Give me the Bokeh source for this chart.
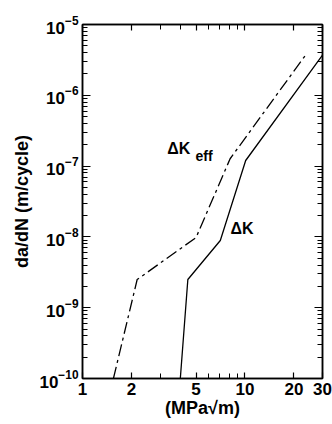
from bokeh.plotting import figure
from bokeh.models import (LogAxis, FixedTicker, LogTicker, PrintfTickFormatter,
                          LogTickFormatter, Range1d, CustomJSTickFormatter)
from bokeh.core.properties import value
from bokeh.embed import file_html
from bokeh.resources import INLINE

# Data
dk_x = [4.0, 4.45, 7.05, 10.1, 30.0]
dk_y = [1e-10, 2.5e-9, 8.9e-9, 1.2e-7, 3.7e-6]
dkeff_x = [1.55, 2.17, 5.0, 8.1, 24.0]
dkeff_y = [1e-10, 2.5e-9, 9.8e-9, 1.27e-7, 3.9e-6]

x_tick_labels = [1, 2, 5, 10, 20, 30]
x_minor_ticks = [3, 4, 6, 7, 8, 9]

label_text = ["ΔK", "ΔK", "eff"]
label_x = [8.14, 3.32, 4.96]
label_y = [1.3e-8, 1.75e-7, 1.41e-7]
label_size = ["16px", "16px", "14px"]

FONT = "Liberation Sans"

p = figure(width=332, height=424, x_axis_type="log", y_axis_type="log",
           x_range=Range1d(1, 30), y_range=Range1d(1e-10, 1e-5),
           output_backend="svg", toolbar_location=None,
           min_border_left=82, min_border_right=10,
           min_border_top=24, min_border_bottom=46)
p.grid.visible = False
p.outline_line_color = "black"
p.outline_line_width = 1.5
p.background_fill_color = "white"
p.border_fill_color = "white"


def style_axis(ax, major_in, minor_in, labels=True):
    ax.major_tick_in = major_in
    ax.major_tick_out = 0
    ax.minor_tick_in = minor_in
    ax.minor_tick_out = 0
    ax.axis_line_width = 1.5
    ax.axis_line_color = "black"
    ax.major_tick_line_width = 1.2
    ax.minor_tick_line_width = 1.0
    ax.major_tick_line_color = "black"
    ax.minor_tick_line_color = "black"
    ax.major_label_text_font = FONT
    ax.major_label_text_font_style = "bold"
    ax.major_label_text_color = "black"
    ax.axis_label_text_color = "black"
    if not labels:
        ax.formatter = CustomJSTickFormatter(code="return ''")
        ax.major_label_standoff = 0


xt = FixedTicker(ticks=x_tick_labels, minor_ticks=x_minor_ticks)
p.xaxis.ticker = xt
p.xaxis.formatter = PrintfTickFormatter(format="%d")
style_axis(p.xaxis[0], 6, 5)
p.xaxis.major_label_text_font_size = "17px"
p.xaxis.major_label_standoff = 4
p.xaxis.axis_label = "(MPa√m)"
p.xaxis.axis_label_text_font = FONT
p.xaxis.axis_label_text_font_style = "bold"
p.xaxis.axis_label_text_font_size = "18px"
p.xaxis.axis_label_standoff = 0

p.yaxis.ticker = LogTicker(num_minor_ticks=10)
p.yaxis.formatter = LogTickFormatter()
style_axis(p.yaxis[0], 8, 5)
p.yaxis.major_label_text_font_size = "17px"
p.yaxis.major_label_standoff = 4
p.yaxis.axis_label = "da/dN (m/cycle)"
p.yaxis.axis_label_text_font = FONT
p.yaxis.axis_label_text_font_style = "bold"
p.yaxis.axis_label_text_font_size = "18px"
p.yaxis.axis_label_standoff = 4

top = LogAxis(ticker=FixedTicker(ticks=x_tick_labels, minor_ticks=x_minor_ticks))
style_axis(top, 6, 5, labels=False)
p.add_layout(top, "above")

right = LogAxis(ticker=LogTicker(num_minor_ticks=10))
style_axis(right, 8, 5, labels=False)
p.add_layout(right, "right")

p.line(dk_x, dk_y, line_color="black", line_width=1.3)
p.line(dkeff_x, dkeff_y, line_color="black", line_width=1.3, line_dash="12 4 3 4")

p.text(x=label_x, y=label_y, text=label_text, text_font=value(FONT),
       text_font_style="bold", text_font_size=label_size,
       text_baseline="alphabetic", text_align="left", text_color="black")

open("out.html", "w").write(file_html(p, INLINE))
